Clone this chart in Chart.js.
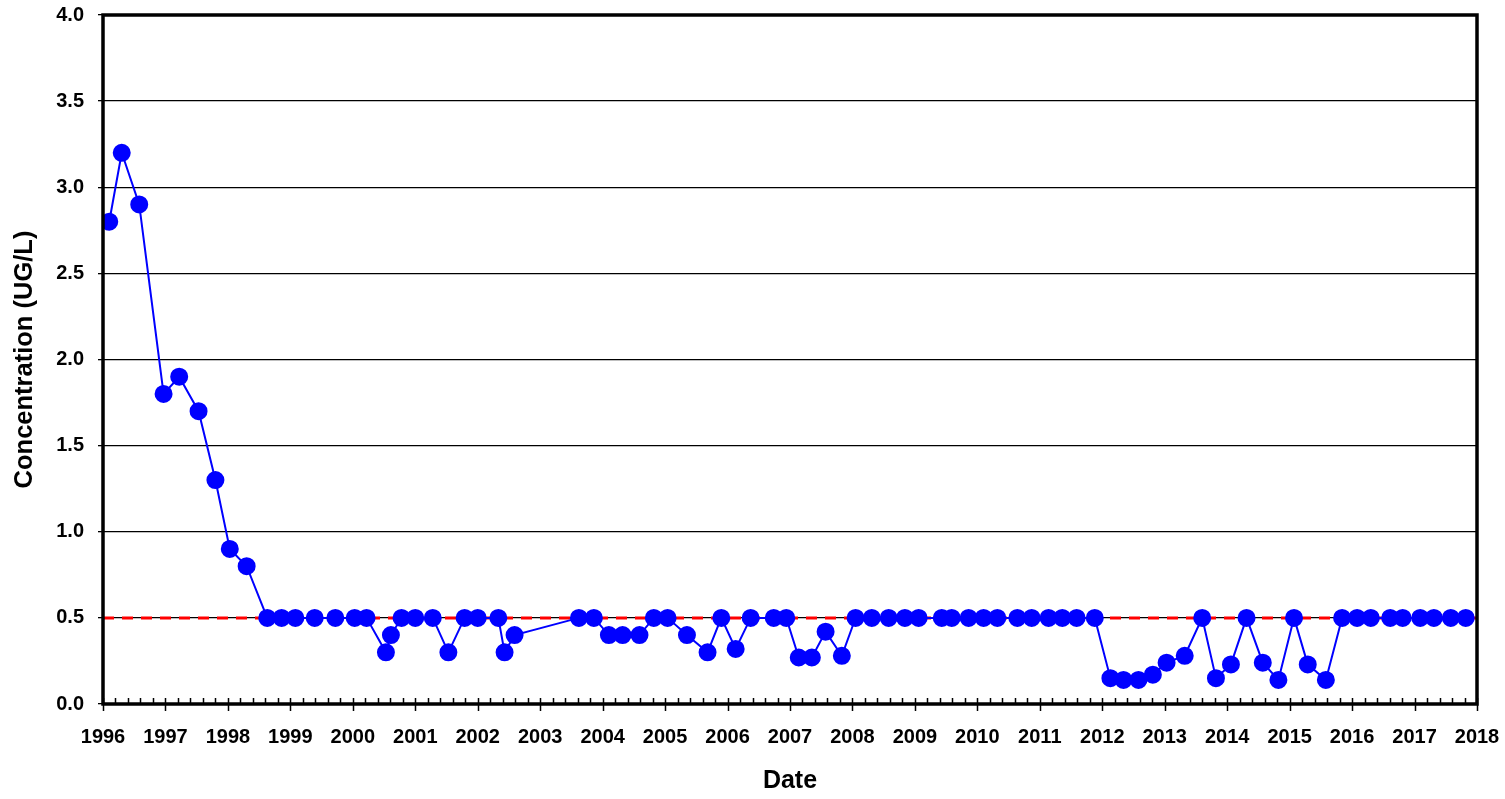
<!DOCTYPE html>
<html>
<head>
<meta charset="utf-8">
<script src="https://cdn.jsdelivr.net/npm/chart.js@4"></script>
<style>
  html, body { margin: 0; padding: 0; background: #fff; }
  #wrap { width: 1505px; height: 799px; }
</style>
</head>
<body>
<div id="wrap"><canvas id="concChart" width="1505" height="799"></canvas></div>
<script>
// sample dates (decimal years) and measured concentrations
const sampleDates = [
    1996.10, 1996.30, 1996.58, 1996.97, 1997.22, 1997.53, 1997.80, 1998.03, 1998.30, 1998.63,
    1998.86, 1999.08, 1999.39, 1999.72, 2000.03, 2000.22, 2000.53, 2000.61, 2000.78, 2001.00,
    2001.28, 2001.53, 2001.79, 2002.00, 2002.33, 2002.43, 2002.59, 2003.62, 2003.86, 2004.10,
    2004.32, 2004.59, 2004.82, 2005.04, 2005.35, 2005.68, 2005.90, 2006.13, 2006.37, 2006.74,
    2006.94, 2007.14, 2007.35, 2007.57, 2007.83, 2008.05, 2008.31, 2008.58, 2008.84, 2009.06,
    2009.43, 2009.59, 2009.86, 2010.10, 2010.32, 2010.64, 2010.87, 2011.14, 2011.36, 2011.59,
    2011.88, 2012.13, 2012.34, 2012.58, 2012.81, 2013.03, 2013.32, 2013.60, 2013.82, 2014.06,
    2014.31, 2014.57, 2014.82, 2015.07, 2015.29, 2015.58, 2015.84, 2016.08, 2016.30, 2016.61,
    2016.81, 2017.09, 2017.31, 2017.58, 2017.82
];
const concentrations = [
    2.80, 3.20, 2.90, 1.80, 1.90, 1.70, 1.30, 0.90, 0.80, 0.50,
    0.50, 0.50, 0.50, 0.50, 0.50, 0.50, 0.30, 0.40, 0.50, 0.50,
    0.50, 0.30, 0.50, 0.50, 0.50, 0.30, 0.40, 0.50, 0.50, 0.40,
    0.40, 0.40, 0.50, 0.50, 0.40, 0.30, 0.50, 0.32, 0.50, 0.50,
    0.50, 0.27, 0.27, 0.42, 0.28, 0.50, 0.50, 0.50, 0.50, 0.50,
    0.50, 0.50, 0.50, 0.50, 0.50, 0.50, 0.50, 0.50, 0.50, 0.50,
    0.50, 0.15, 0.14, 0.14, 0.17, 0.24, 0.28, 0.50, 0.15, 0.23,
    0.50, 0.24, 0.14, 0.50, 0.23, 0.14, 0.50, 0.50, 0.50, 0.50,
    0.50, 0.50, 0.50, 0.50, 0.50
];
const limitValue = 0.5;
const xRange = [1996, 2018];
const yRange = [0, 4];

const FONT = 'Liberation Sans, Arial, sans-serif';

// thick frame round the plot area + major/minor ticks on the x axis
const framePlugin = {
    id: 'frame',
    afterDraw(chart) {
        const { ctx, chartArea: a, scales: { x } } = chart;
        ctx.save();
        ctx.strokeStyle = '#000';
        ctx.lineWidth = 1.5;
        ctx.beginPath();
        for (let i = 0; i <= (xRange[1] - xRange[0]) * 5; i++) {
            const v = xRange[0] + i / 5;
            const px = Math.round(x.getPixelForValue(v)) + 0.5;
            const major = i % 5 === 0;
            ctx.moveTo(px, a.bottom - 6);
            ctx.lineTo(px, a.bottom + (major ? 7 : 0));
        }
        ctx.stroke();
        ctx.lineWidth = 3.5;
        ctx.strokeRect(a.left, a.top, a.right - a.left, a.bottom - a.top);
        ctx.restore();
    }
};

const canvas = document.getElementById('concChart');

new Chart(canvas, {
    type: 'scatter',
    data: {
        datasets: [{
            label: 'Concentration',
            data: sampleDates.map((d, i) => ({ x: d, y: concentrations[i] })),
            showLine: true,
            borderColor: '#0000ff',
            backgroundColor: '#0000ff',
            borderWidth: 2,
            pointRadius: 8,
            pointHoverRadius: 8,
            tension: 0
        }, {
            label: 'Limit',
            data: [{ x: xRange[0], y: limitValue }, { x: xRange[1], y: limitValue }],
            showLine: true,
            borderColor: '#ff0000',
            borderWidth: 3,
            borderDash: [11, 8],
            pointRadius: 0
        }]
    },
    options: {
        responsive: false,
        animation: false,
        events: [],
        layout: { padding: { left: 0, right: 28, top: 15, bottom: 0 } },
        plugins: {
            legend: { display: false },
            tooltip: { enabled: false }
        },
        scales: {
            x: {
                type: 'linear',
                min: xRange[0],
                max: xRange[1],
                afterFit(scale) {
                    scale.height = 95;
                    scale.paddingLeft = 0;
                    scale.paddingRight = 0;
                },
                ticks: {
                    stepSize: 1,
                    padding: 13,
                    maxRotation: 0,
                    autoSkip: false,
                    color: '#000',
                    font: { family: FONT, size: 20, weight: 'bold' },
                    callback: v => String(v)
                },
                grid: { display: false },
                border: { display: false },
                title: {
                    display: true,
                    text: 'Date',
                    color: '#000',
                    font: { family: FONT, size: 25, weight: 'bold' },
                    padding: { top: 4, bottom: 3 }
                }
            },
            y: {
                min: yRange[0],
                max: yRange[1],
                afterFit(scale) {
                    scale.width = 103;
                    scale.paddingTop = 0;
                    scale.paddingBottom = 0;
                },
                ticks: {
                    stepSize: 0.5,
                    padding: 14,
                    color: '#000',
                    font: { family: FONT, size: 20, weight: 'bold' },
                    callback: v => v.toFixed(1)
                },
                grid: {
                    color: '#000',
                    lineWidth: 1.3,
                    tickLength: 5
                },
                border: { display: false },
                title: {
                    display: true,
                    text: 'Concentration (UG/L)',
                    color: '#000',
                    font: { family: FONT, size: 25.5, weight: 'bold' },
                    padding: { top: 10, bottom: 4 }
                }
            }
        }
    },
    plugins: [framePlugin]
});
</script>
</body>
</html>
